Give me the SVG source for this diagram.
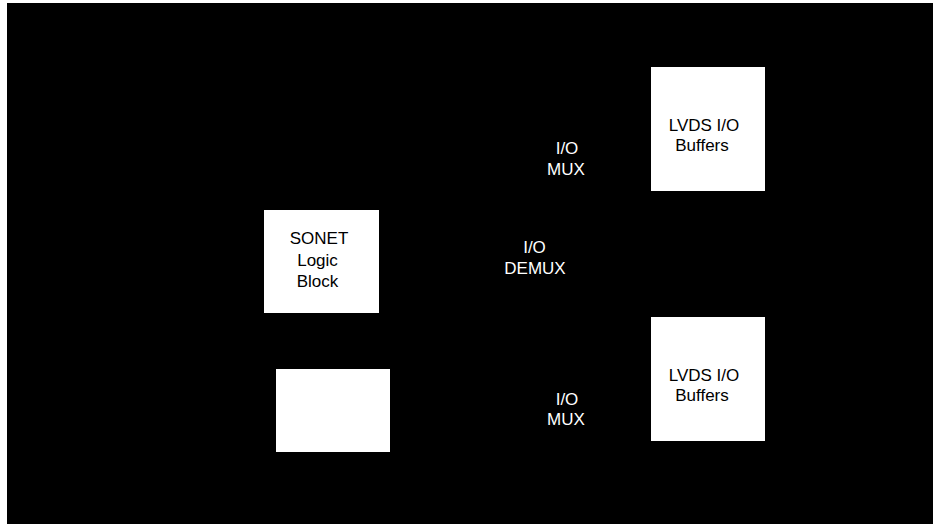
<svg xmlns="http://www.w3.org/2000/svg" width="933" height="524" viewBox="0 0 933 524">
<style>
.box{fill:#ffffff;stroke:none}
.t{font-family:"Liberation Sans",Arial,sans-serif;font-size:17px;text-anchor:middle}
.dk{fill:#000000}
.lt{fill:#ffffff}
</style>
<rect x="0" y="0" width="933" height="524" fill="#ffffff"/>
<rect x="7" y="3" width="926" height="521" fill="#000000"/>
<g id="connectors"></g>
<g id="sonet">
<rect class="box" x="264" y="210" width="115" height="103"/>
<text class="t dk" x="319" y="244">SONET</text>
<text class="t dk" x="317.5" y="265.5">Logic</text>
<text class="t dk" x="317.5" y="286.5">Block</text>
</g>
<g id="blank">
<rect class="box" x="276" y="369" width="114" height="83"/>
</g>
<g id="lvds-top">
<rect class="box" x="651" y="67" width="114" height="124"/>
<text class="t dk" x="704" y="131">LVDS I/O</text>
<text class="t dk" x="702" y="151">Buffers</text>
</g>
<g id="lvds-bottom">
<rect class="box" x="651" y="317" width="114" height="124"/>
<text class="t dk" x="704" y="381">LVDS I/O</text>
<text class="t dk" x="702" y="401">Buffers</text>
</g>
<g id="mux-top">
<text class="t lt" x="567" y="154">I/O</text>
<text class="t lt" x="566" y="174.5">MUX</text>
</g>
<g id="demux">
<text class="t lt" x="534.5" y="252.5">I/O</text>
<text class="t lt" x="535" y="273.5">DEMUX</text>
</g>
<g id="mux-bottom">
<text class="t lt" x="567" y="405">I/O</text>
<text class="t lt" x="566" y="425">MUX</text>
</g>
</svg>
